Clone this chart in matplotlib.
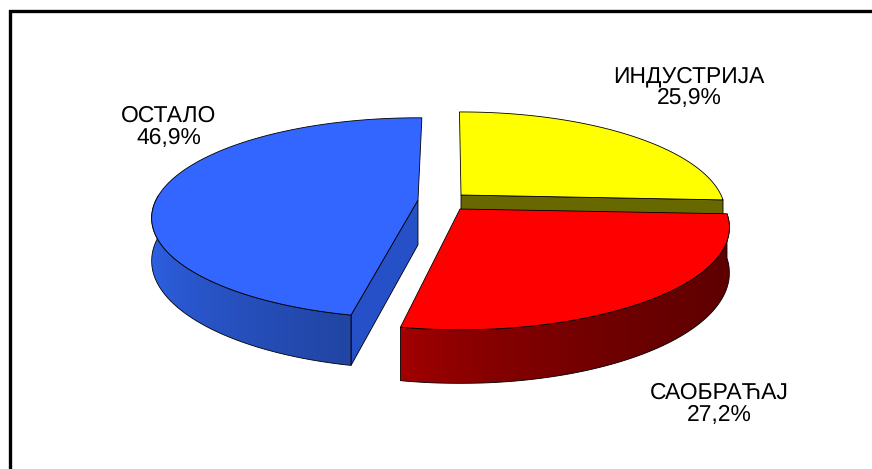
import matplotlib
matplotlib.use("Agg")
import matplotlib.pyplot as plt
import numpy as np
from matplotlib.patches import Polygon

plt.rcParams['font.family'] = ['Liberation Sans', 'DejaVu Sans']
plt.rcParams['text.hinting'] = 'none'

names = ["ИНДУСТРИЈА", "САОБРАЋАЈ", "ОСТАЛО"]
shares = [25.9, 27.2, 46.9]

top_colors = ["#ffff00", "#ff0000", "#3366ff"]
cut_colors = ["#686800", "#8a0000", "#2650c8"]
# wall colour at the left and right end of each slice
wall_left = [(0.4, 0.4, 0.0), (0.66, 0.0, 0.0), (0.18, 0.38, 0.90)]
wall_right = [(0.4, 0.4, 0.0), (0.37, 0.0, 0.0), (0.13, 0.27, 0.64)]

centers = [(461, 195), (460, 209), (418, 200)]
radii = [260, 265, 262]
squash = [98, 99, 97]
depths = [43, 44, 41.5]
spins = [-0.4, -0.5, 1.0]
label_pos = [(689, 87), (719, 404), (169, 127)]

persp = 0.18


def project(cx, cy, rx, ry, t, lift=0.0):
    # t runs clockwise from twelve o'clock
    x = np.sin(t)
    y = np.cos(t)
    w = 1 + persp * y
    return cx + rx * x / w, cy - ry * y / w + lift / w


fig = plt.figure(figsize=(8.72, 4.69), dpi=100)
ax = fig.add_axes([0, 0, 1, 1])

# frame, open on the bottom
ax.plot([9.5, 9.5, 872], [469, 11, 11], color="black", lw=2.4, solid_joinstyle="miter")

edges = np.cumsum([0] + shares) / sum(shares) * 2 * np.pi
draw_order = [2, 0, 1]

for i in draw_order:
    cx, cy = centers[i]
    rx, ry, depth = radii[i], squash[i], depths[i]
    spin = np.radians(spins[i])
    t = np.linspace(edges[i], edges[i + 1], 240) + spin
    px, py = project(cx, cy, rx, ry, t)
    qx, qy = project(cx, cy, rx, ry, t, depth)

    # radial cut faces that turn towards the viewer
    if i == 0:
        face = [(cx, cy), (px[-1], py[-1]), (qx[-1], qy[-1]), (cx, cy + depth)]
        ax.add_patch(Polygon(face, fc=cut_colors[i], ec="black", lw=0.6, zorder=2 + i))
    if i == 2:
        face = [(cx, cy), (px[0], py[0]), (qx[0], qy[0]), (cx, cy + depth * 1.08)]
        ax.add_patch(Polygon(face, fc=cut_colors[i], ec="black", lw=0.6, zorder=2 + i))

    # outer wall, a horizontal gradient clipped to its outline
    front = np.where(np.cos(t) < 0.05)[0]
    if i != 0:
        wall = np.c_[np.r_[px[front], qx[front][::-1]], np.r_[py[front], qy[front][::-1]]]
        outline = Polygon(wall, fill=False, ec="black", lw=0.6, zorder=2.1 + i)
        ax.add_patch(outline)
        m = np.linspace(0, 1, 256)[None, :, None] ** 0.6
        shade = np.array(wall_left[i])[None, None, :] * (1 - m) + np.array(wall_right[i])[None, None, :] * m
        img = ax.imshow(shade, extent=(wall[:, 0].min(), wall[:, 0].max(), wall[:, 1].max(), wall[:, 1].min()),
                        aspect="auto", interpolation="bilinear", zorder=2 + i)
        img.set_clip_path(outline)

    # top of the slice
    top = np.c_[np.r_[cx, px], np.r_[cy, py]]
    ax.add_patch(Polygon(top, fc=top_colors[i], ec="black", lw=0.6, zorder=2.2 + i))

for name, share, (lx, ly) in zip(names, shares, label_pos):
    label = name + "\n" + f"{share:.1f}%".replace(".", ",")
    ax.text(lx, ly, label, ha="center", va="center", fontsize=16.5, linespacing=1.0, color="black")

ax.set_xlim(0, 872)
ax.set_ylim(469, 0)
ax.axis("off")

fig.savefig("out.png", dpi=100)
